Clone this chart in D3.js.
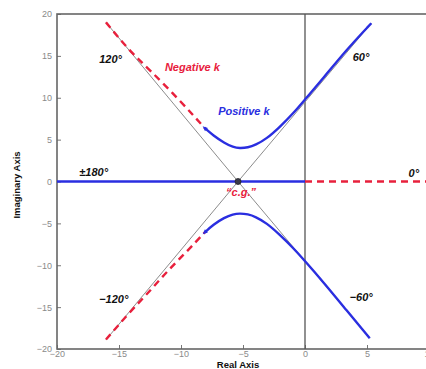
<!DOCTYPE html>
<html>
<head>
<meta charset="utf-8">
<script src="https://cdn.jsdelivr.net/npm/d3@7"></script>
<style>
  body { margin: 0; background: #fff; }
  svg { display: block; font-family: "Liberation Sans", Arial, sans-serif; }
  .tick text { fill: #8a8a8a; font-size: 9px; }
  .tick line { stroke: #777; }
  .note { font-weight: bold; font-style: italic; font-size: 11px; }
  .axis_label { font-weight: bold; font-size: 9.5px; fill: #111; }
</style>
</head>
<body>
<div id="vis1"></div>
<script>
// tick values
var xTicks = [-20, -15, -10, -5, 0, 5, 10];
var yTicks = [-20, -15, -10, -5, 0, 5, 10, 15, 20];

// centre of gravity of the asymptotes
var cg = [-5.4, 0];

// far ends of the four asymptotes
var asymEnds = [[-16.05, 19.0], [5.35, 18.9], [-16.05, -18.9], [5.22, -18.7]];

// positive k branches
var bluePosUpper = [[-8.1, 6.4], [-7.4, 5.5], [-6.5, 4.6], [-5.8, 4.1], [-5.27, 3.96], [-4.6, 4.05],
  [-4.0, 4.35], [-3.1, 5.1], [-2.04, 6.5], [-0.97, 8.1], [0, 9.8], [1.45, 12.3], [3.33, 15.7], [5.35, 18.9]];
var bluePosLower = [[-8.1, -6.1], [-7.4, -5.15], [-6.5, -4.3], [-5.8, -3.9], [-5.27, -3.8], [-4.6, -3.9],
  [-4.0, -4.2], [-3.1, -4.95], [-2.04, -6.35], [-0.97, -7.9], [0, -9.5], [1.45, -11.96], [3.33, -15.34], [5.22, -18.72]];
var bluePosReal = [[-20, 0], [0, 0]];

// negative k branches
var redNegUpper = [[-16.05, 19.0], [-14.1, 15.5], [-12.5, 13.3], [-10.1, 9.7], [-8.1, 6.4]];
var redNegLower = [[-16.05, -18.87], [-14.11, -15.55], [-12.5, -13.07], [-11.15, -10.77], [-9.54, -8.38], [-8.1, -6.1]];
var redNegReal = [[0, 0], [10, 0]];

// angle labels
var angleLabels = [
  {text: "120\u00b0", x: -16.6, y: 14.1},
  {text: "60\u00b0", x: 3.85, y: 14.4},
  {text: "\u00b1180\u00b0", x: -18.2, y: 0.65},
  {text: "0\u00b0", x: 8.35, y: 0.55},
  {text: "\u2212120\u00b0", x: -16.6, y: -14.5},
  {text: "\u221260\u00b0", x: 3.6, y: -14.3}
];

var width = 426, height = 369;

var svg = d3.select("#vis1").append("svg")
    .attr("width", width)
    .attr("height", height);

var xScale = d3.scaleLinear().domain([-20, 10]).range([57, 429]);
var yScale = d3.scaleLinear().domain([-20, 20]).range([349, 14]);

// axes with inward ticks
svg.append("g")
    .attr("transform", "translate(0,349)")
    .call(d3.axisBottom(xScale).tickValues(xTicks).tickSizeInner(-4).tickSizeOuter(0).tickPadding(2))
    .selectAll(".domain").remove();

svg.append("g")
    .attr("transform", "translate(57,0)")
    .call(d3.axisLeft(yScale).tickValues(yTicks).tickSizeInner(-4).tickSizeOuter(0).tickPadding(5))
    .selectAll(".domain").remove();

// frame
svg.append("rect")
    .attr("x", xScale(-20))
    .attr("y", yScale(20))
    .attr("width", xScale(10) - xScale(-20))
    .attr("height", yScale(-20) - yScale(20))
    .attr("fill", "none")
    .attr("stroke", "#666")
    .attr("stroke-width", 1.6);

var line = d3.line()
    .x(function(d) { return xScale(d[0]); })
    .y(function(d) { return yScale(d[1]); });

var smooth = d3.line()
    .x(function(d) { return xScale(d[0]); })
    .y(function(d) { return yScale(d[1]); })
    .curve(d3.curveBasis);

// imaginary axis
svg.append("path")
    .datum([[0, -20], [0, 20]])
    .attr("d", line)
    .attr("stroke", "#555")
    .attr("stroke-width", 1.3)
    .attr("fill", "none");

// asymptotes
asymEnds.forEach(function(e) {
    svg.append("path")
        .datum([cg, e])
        .attr("d", line)
        .attr("stroke", "#8c8c8c")
        .attr("stroke-width", 1)
        .attr("fill", "none");
});

// negative k (red dashed)
[redNegUpper, redNegLower, redNegReal].forEach(function(d) {
    svg.append("path")
        .datum(d)
        .attr("d", smooth)
        .attr("stroke", "#e8203c")
        .attr("stroke-width", 2.4)
        .attr("stroke-dasharray", "7,5")
        .attr("fill", "none");
});

// positive k (blue)
[bluePosUpper, bluePosLower, bluePosReal].forEach(function(d) {
    svg.append("path")
        .datum(d)
        .attr("d", smooth)
        .attr("stroke", "#2a2ee0")
        .attr("stroke-width", 2.4)
        .attr("fill", "none");
});

// small arrow marks where blue branches start
[bluePosUpper, bluePosLower].forEach(function(d) {
    var p0 = [xScale(d[0][0]), yScale(d[0][1])];
    var p1 = [xScale(d[1][0]), yScale(d[1][1])];
    var ang = Math.atan2(p0[1] - p1[1], p0[0] - p1[0]) * 180 / Math.PI;
    svg.append("path")
        .attr("d", "M2.5,0 L-2.5,-2.2 L-2.5,2.2 Z")
        .attr("transform", "translate(" + p0[0] + "," + p0[1] + ") rotate(" + ang + ")")
        .attr("fill", "#2a2ee0");
});

// c.g. marker
svg.append("circle")
    .attr("cx", xScale(cg[0]))
    .attr("cy", yScale(cg[1]))
    .attr("r", 3)
    .attr("fill", "#3a3a4a")
    .attr("stroke", "#222")
    .attr("stroke-width", 0.8);

// annotations
svg.selectAll(".angle")
    .data(angleLabels)
    .enter().append("text")
    .attr("class", "note")
    .attr("x", function(d) { return xScale(d.x); })
    .attr("y", function(d) { return yScale(d.y); })
    .attr("fill", "#111")
    .text(function(d) { return d.text; });

svg.append("text")
    .attr("class", "note")
    .attr("x", xScale(-11.3))
    .attr("y", yScale(13.2))
    .attr("fill", "#e8203c")
    .text("Negative k");

svg.append("text")
    .attr("class", "note")
    .attr("x", xScale(-7.0))
    .attr("y", yScale(8.0))
    .attr("fill", "#2a2ee0")
    .text("Positive k");

svg.append("text")
    .attr("class", "note")
    .attr("x", xScale(cg[0]) + 3)
    .attr("y", yScale(-1.75))
    .attr("text-anchor", "middle")
    .attr("fill", "#e8203c")
    .text("\u201cc.g.\u201d");

svg.append('text')
    .attr('x', 238)
    .attr('y', 368)
    .attr('text-anchor', 'middle')
    .attr('class', 'axis_label')
    .text("Real Axis");

svg.append('text')
    .attr('x', -185)
    .attr('y', 20)
    .attr("transform", 'rotate(-90)')
    .attr('text-anchor', 'middle')
    .attr('class', 'axis_label')
    .text("Imaginary Axis");
</script>
</body>
</html>
